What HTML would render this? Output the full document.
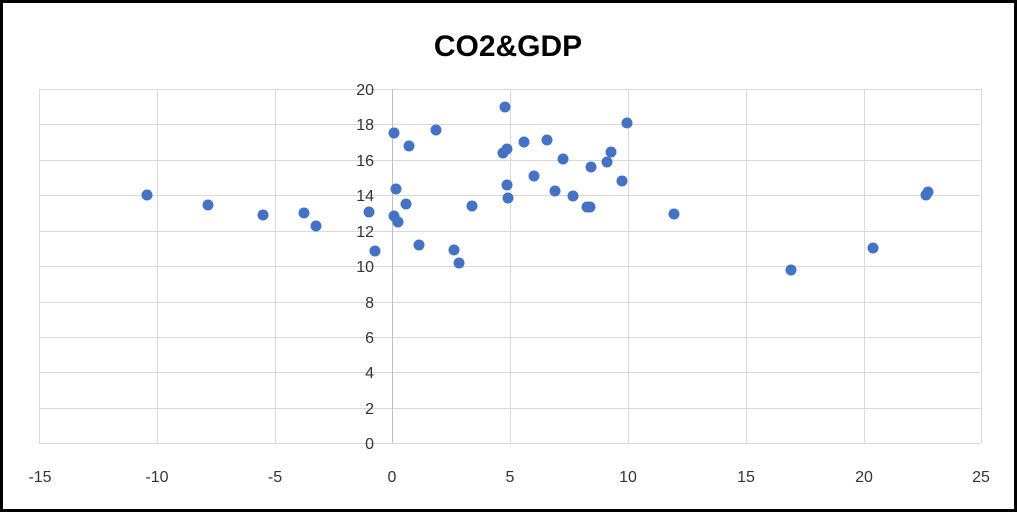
<!DOCTYPE html><html><head><style>body{margin:0}svg{display:block}</style></head><body>
<svg width="1017" height="512" xmlns="http://www.w3.org/2000/svg" font-family="Liberation Sans, sans-serif">
<rect x="1.5" y="1.5" width="1014" height="509" fill="#fff" stroke="#000" stroke-width="3"/>
<text x="508" y="56" text-anchor="middle" font-size="30" font-weight="bold" fill="#000">CO2&amp;GDP</text>
<g stroke="#d9d9d9" stroke-width="1">
<line x1="39" y1="89.5" x2="981" y2="89.5"/><line x1="39" y1="124.5" x2="981" y2="124.5"/><line x1="39" y1="160.5" x2="981" y2="160.5"/><line x1="39" y1="195.5" x2="981" y2="195.5"/><line x1="39" y1="231.5" x2="981" y2="231.5"/><line x1="39" y1="266.5" x2="981" y2="266.5"/><line x1="39" y1="302.5" x2="981" y2="302.5"/><line x1="39" y1="337.5" x2="981" y2="337.5"/><line x1="39" y1="372.5" x2="981" y2="372.5"/><line x1="39" y1="408.5" x2="981" y2="408.5"/><line x1="39" y1="443.5" x2="981" y2="443.5"/>
<line x1="39.5" y1="89" x2="39.5" y2="443"/><line x1="157.5" y1="89" x2="157.5" y2="443"/><line x1="275.5" y1="89" x2="275.5" y2="443"/><line x1="510.5" y1="89" x2="510.5" y2="443"/><line x1="628.5" y1="89" x2="628.5" y2="443"/><line x1="746.5" y1="89" x2="746.5" y2="443"/><line x1="864.5" y1="89" x2="864.5" y2="443"/><line x1="981.5" y1="89" x2="981.5" y2="443"/>
</g>
<line x1="392.5" y1="89" x2="392.5" y2="443" stroke="#bfbfbf"/>
<g font-size="16" fill="#333" text-anchor="end">
<text x="374" y="95">20</text><text x="374" y="130">18</text><text x="374" y="166">16</text><text x="374" y="201">14</text><text x="374" y="237">12</text><text x="374" y="272">10</text><text x="374" y="308">8</text><text x="374" y="343">6</text><text x="374" y="378">4</text><text x="374" y="414">2</text><text x="374" y="449">0</text>
</g>
<g font-size="16" fill="#333" text-anchor="middle">
<text x="40" y="482">-15</text><text x="157" y="482">-10</text><text x="275" y="482">-5</text><text x="392" y="482">0</text><text x="510" y="482">5</text><text x="628" y="482">10</text><text x="746" y="482">15</text><text x="864" y="482">20</text><text x="981" y="482">25</text>
</g>
<g fill="#4472c4">
<circle cx="147" cy="195" r="5.5"/><circle cx="208" cy="205" r="5.5"/><circle cx="263" cy="215" r="5.5"/><circle cx="304" cy="213" r="5.5"/><circle cx="316" cy="226" r="5.5"/><circle cx="369" cy="212" r="5.5"/><circle cx="375" cy="251" r="5.5"/><circle cx="394" cy="133" r="5.5"/><circle cx="394" cy="216" r="5.5"/><circle cx="396" cy="189" r="5.5"/><circle cx="398" cy="222" r="5.5"/><circle cx="406" cy="204" r="5.5"/><circle cx="409" cy="146" r="5.5"/><circle cx="419" cy="245" r="5.5"/><circle cx="436" cy="130" r="5.5"/><circle cx="454" cy="250" r="5.5"/><circle cx="459" cy="263" r="5.5"/><circle cx="472" cy="206" r="5.5"/><circle cx="503" cy="153" r="5.5"/><circle cx="505" cy="107" r="5.5"/><circle cx="507" cy="149" r="5.5"/><circle cx="507" cy="185" r="5.5"/><circle cx="508" cy="198" r="5.5"/><circle cx="524" cy="142" r="5.5"/><circle cx="534" cy="176" r="5.5"/><circle cx="547" cy="140" r="5.5"/><circle cx="555" cy="191" r="5.5"/><circle cx="563" cy="159" r="5.5"/><circle cx="573" cy="196" r="5.5"/><circle cx="587" cy="207" r="5.5"/><circle cx="590" cy="207" r="5.5"/><circle cx="591" cy="167" r="5.5"/><circle cx="607" cy="162" r="5.5"/><circle cx="611" cy="152" r="5.5"/><circle cx="622" cy="181" r="5.5"/><circle cx="627" cy="123" r="5.5"/><circle cx="674" cy="214" r="5.5"/><circle cx="791" cy="270" r="5.5"/><circle cx="873" cy="248" r="5.5"/><circle cx="926" cy="195" r="5.5"/><circle cx="928" cy="192" r="5.5"/>
</g>
</svg>
</body></html>
